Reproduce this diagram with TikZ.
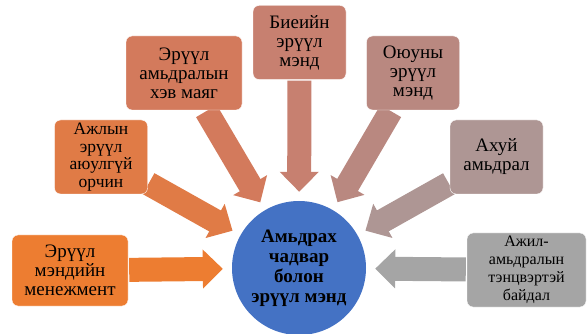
\documentclass[tikz,border=0pt]{standalone}
\usepackage{fontspec}
\setmainfont{Liberation Serif}
\usetikzlibrary{arrows.meta,backgrounds}

\definecolor{cMen}{RGB}{237,125,49}
\definecolor{cAj}{RGB}{224,123,70}
\definecolor{cAm}{RGB}{211,122,92}
\definecolor{cBi}{RGB}{199,128,112}
\definecolor{cOy}{RGB}{185,136,128}
\definecolor{cAh}{RGB}{174,150,148}
\definecolor{cTen}{RGB}{165,165,165}
\definecolor{cCirc}{RGB}{68,114,196}

\begin{document}
\begin{tikzpicture}[x=1pt,y=-1pt,font=\fontsize{19}{19}\selectfont]
  \tikzstyle{box}=[rounded corners=6pt,draw=white,thin,align=center,inner sep=0pt,minimum height=74pt,minimum width=93pt]
  \tikzstyle{fat}=[line width=24pt,-{Triangle[length=20pt,width=38pt]},shorten >=9pt,shorten <=1pt]
  \useasboundingbox (0,0) rectangle (587,334);

  \node[circle,fill=cCirc,minimum size=134pt,inner sep=0pt,align=center,
        font=\fontsize{19}{20}\selectfont\bfseries] (C) at (299,268) {Амьдрах\\чадвар\\болон\\эрүүл мэнд};

  \node[box,fill=cMen,minimum width=116pt,minimum height=71pt] (M) at (70,270.5) {Эрүүл\\мэндийн\\менежмент};
  \node[box,fill=cAj,font=\fontsize{17.5}{17.5}\selectfont] (A) at (101,157) {Ажлын\\эрүүл\\аюулгүй\\орчин};
  \node[box,fill=cAm,minimum width=116pt] (H) at (184,73) {Эрүүл\\амьдралын\\хэв маяг};
  \node[box,fill=cBi] (B) at (299.5,42.5) {Биеийн\\эрүүл\\мэнд};
  \node[box,fill=cOy] (O) at (413,73) {Оюуны\\эрүүл\\мэнд};
  \node[box,fill=cAh] (X) at (496.5,157) {Ахуй\\амьдрал};
  \node[box,fill=cTen,minimum width=119pt,font=\fontsize{16}{18}\selectfont] (T) at (526.5,270) {Ажил-\\амьдралын\\тэнцвэртэй\\байдал};

  \begin{scope}[on background layer]
    \draw[fat,cMen] (M) -- (C);
    \draw[fat,cAj] (A) -- (C);
    \draw[fat,cAm] (H) -- (C);
    \draw[fat,cBi] (B) -- (C);
    \draw[fat,cOy] (O) -- (C);
    \draw[fat,cAh] (X) -- (C);
    \draw[fat,cTen] (T) -- (C);
  \end{scope}
\end{tikzpicture}
\end{document}
